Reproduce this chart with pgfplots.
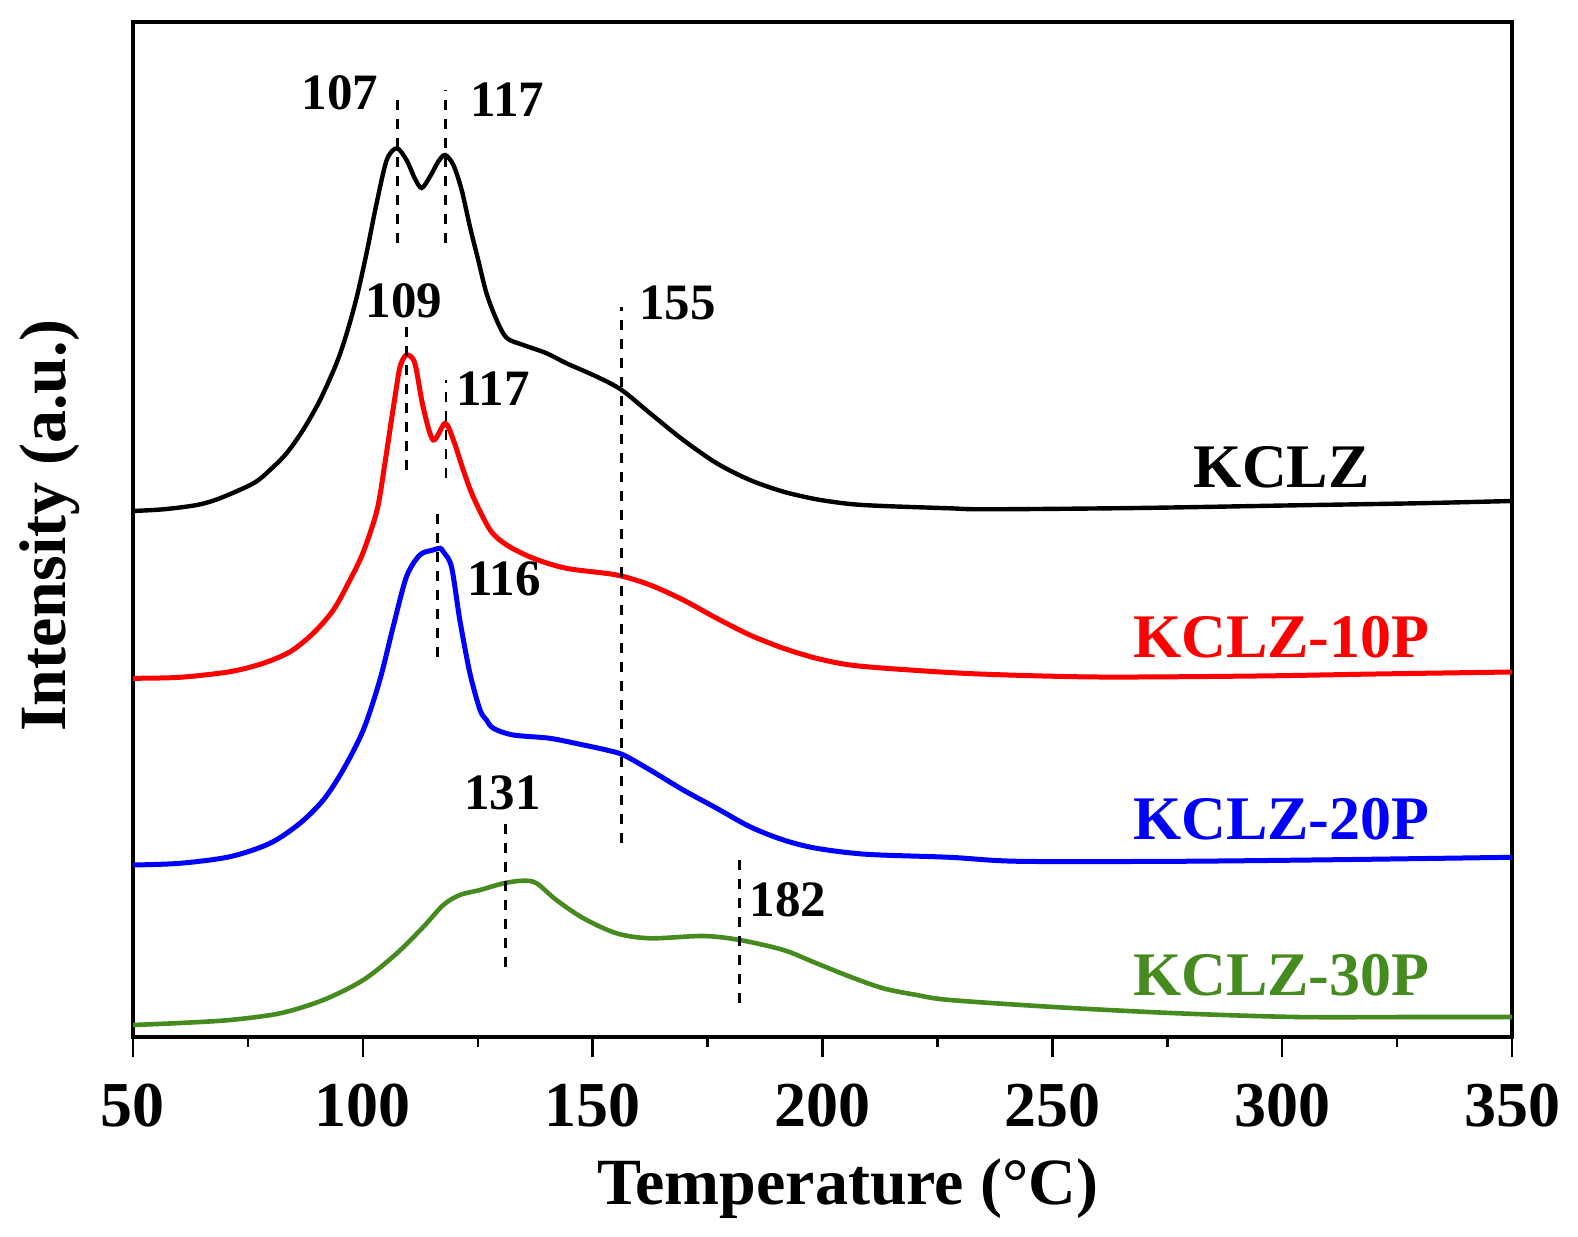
\documentclass[border=0pt]{standalone}
\usepackage{fontspec}
\setmainfont{Liberation Serif}
\usepackage{pgfplots}
\pgfplotsset{compat=1.18}
\definecolor{cgreen}{RGB}{70,139,32}
\definecolor{cred}{RGB}{255,0,0}
\definecolor{cblue}{RGB}{0,0,255}
\tikzset{
  numlab/.style={font=\fontsize{25.5}{25.5}\selectfont\bfseries, inner sep=0pt, anchor=center},
  serlab/.style={font=\fontsize{31}{31}\selectfont\bfseries, inner sep=0pt, anchor=center},
  peak/.style={black, line width=1.4pt, dash pattern=on 5pt off 4.5pt},
}
\begin{document}
\begin{tikzpicture}
\begin{axis}[
  scale only axis, width=689.5pt, height=507.5pt,
  xmin=50, xmax=350, ymin=0, ymax=1015,
  clip=false,
  axis line style={line width=1.75pt},
  xtick={50,100,...,350}, minor x tick num=1,
  xtick pos=left, ytick=\empty,
  tick align=outside,
  major tick length=10pt, minor tick length=5pt,
  every tick/.style={black, line width=1.25pt},
  /pgf/number format/assume math mode=true,
  xticklabel style={font=\fontsize{32}{32}\selectfont\bfseries, anchor=base, inner sep=0pt, yshift=-34.5pt},
]
\addplot[black, line width=2.2pt, smooth, tension=0.5] coordinates {
(50,526) (56.6,527.7) (63.9,532) (68.9,538.7) (76.2,553.7) (79.8,567) (83.4,583.7) (87.0,607) (90.7,637) (94.3,674) (96.5,703.7) (98.7,740.3) (100.8,783.7) (103.0,833.7) (105.2,877) (107.4,888.7) (109.5,877) (111.3,858.7) (112.8,849) (114.6,860.3) (116.4,875.3) (117.9,882) (119.7,872) (121.5,847) (123.3,810.3) (125.1,777) (126.9,743.7) (129.1,717) (131.3,699) (134.9,692) (140.0,683.7) (144.3,673.7) (150.9,660.3) (156.3,647) (162.5,623.7) (169.7,597) (177.0,573.7) (184.2,557) (191.5,545.3) (198.7,537.7) (206.0,533) (213.2,531) (227.7,528.7) (235.8,527.7) (268.6,529) (303.2,531.7) (329.1,533.7) (350,536)
};
\addplot[cred, line width=2.5pt, smooth, tension=0.5] coordinates {
(50,358.7) (60.2,359.7) (71.1,365.3) (78.3,373.7) (84.2,385.3) (89.2,403.7) (93.6,427) (97.2,457) (100.1,485) (103.1,527) (104.8,573.7) (105.9,607) (107.0,640.3) (108.1,670.3) (109.5,682) (111.3,674) (113.1,630.3) (115.3,597) (117.9,613.7) (119.7,597) (121.85,567) (124.0,540.3) (127.7,507) (131.3,492) (137.1,478.7) (144.3,468.7) (155.2,462) (162.5,452) (169.7,437) (177.0,418.7) (184.2,402) (191.5,388.7) (198.7,378.7) (206.0,372) (216.8,367.7) (234.1,363) (260.0,360) (294.5,361) (320.4,363) (350,365)
};
\addplot[cblue, line width=2.5pt, smooth, tension=0.5] coordinates {
(50,172) (60.2,173.7) (71.1,180.3) (79.8,193.7) (86.3,213.7) (91.4,237) (95.7,267) (100.1,307) (103.7,357) (106.6,410.3) (109.5,460.3) (112.4,482) (115.3,487) (116.8,488.7) (117.5,485.3) (119.3,470) (121.1,417) (123.3,363.7) (125.5,327) (126.9,317) (128.4,308.7) (132.7,302) (140.7,298.7) (148.0,292) (153.0,287) (156.7,282) (162.5,267) (169.7,247) (177.0,228.7) (184.2,210.3) (191.5,197) (198.7,188.7) (209.6,182.7) (227.7,179.7) (242.7,175.7) (277.3,175.7) (311.8,177.3) (350,179.7)
};
\addplot[cgreen, line width=2.3pt, smooth, tension=0.5] coordinates {
(50,12) (60.2,14) (71.1,17) (82.0,23.7) (91.4,37) (100.1,57) (107.4,83.7) (113.2,110.3) (117.5,132) (121.1,142) (125.5,147) (130.6,153.7) (134.9,156.3) (137.8,153.7) (142.1,137) (148.0,118.7) (155.2,103.7) (162.5,98.7) (174.1,101) (182.0,97) (191.5,87) (198.7,73.7) (206.0,60.3) (213.2,48.7) (220.5,42) (227.7,37) (251.4,29.7) (277.3,23.7) (303.2,20) (329.1,20) (350,20)
};
% peak marker lines
\addplot[peak] coordinates {(107.5,794) (107.5,945)};
\addplot[peak] coordinates {(117.9,794) (117.9,947)};
\addplot[peak] coordinates {(109.5,567) (109.5,719)};
\addplot[peak] coordinates {(118.1,559) (118.1,657)};
\addplot[peak] coordinates {(116.2,380) (116.2,530)};
\addplot[peak] coordinates {(156.3,194) (156.3,730)};
\addplot[peak] coordinates {(131.1,70) (131.1,220)};
\addplot[peak] coordinates {(182.0,34) (182.0,184)};
% peak labels
\node[numlab] at (axis cs:95.0,944) {107};
\node[numlab] at (axis cs:131.4,937) {117};
\node[numlab] at (axis cs:108.95,736) {109};
\node[numlab] at (axis cs:168.4,734.5) {155};
\node[numlab] at (axis cs:128.3,648) {117};
\node[numlab] at (axis cs:130.7,458) {116};
\node[numlab] at (axis cs:130.4,244.5) {131};
\node[numlab] at (axis cs:192.5,137) {182};
% series labels
\node[serlab, text=black] at (axis cs:299.9,569.5) {KCLZ};
\node[serlab, text=cred] at (axis cs:299.8,399.5) {KCLZ-10P};
\node[serlab, text=cblue] at (axis cs:299.8,218) {KCLZ-20P};
\node[serlab, text=cgreen] at (axis cs:299.8,62) {KCLZ-30P};
% axis titles
\node[font=\fontsize{33}{33}\selectfont\bfseries, anchor=base, inner sep=0pt] at ([yshift=-83.5pt]rel axis cs:0.5185,0) {Temperature (°C)};
\node[font=\fontsize{33}{33}\selectfont\bfseries, anchor=base, inner sep=0pt, rotate=90] at ([xshift=-33.5pt]rel axis cs:0,0.504) {Intensity (a.u.)};
\coordinate (bl) at (rel axis cs:0,0);
\coordinate (tr) at (rel axis cs:1,1);
\end{axis}
\pgfresetboundingbox
\useasboundingbox ([xshift=-66.5pt,yshift=-99.5pt]bl) rectangle ([xshift=33pt,yshift=11pt]tr);
\end{tikzpicture}
\end{document}
